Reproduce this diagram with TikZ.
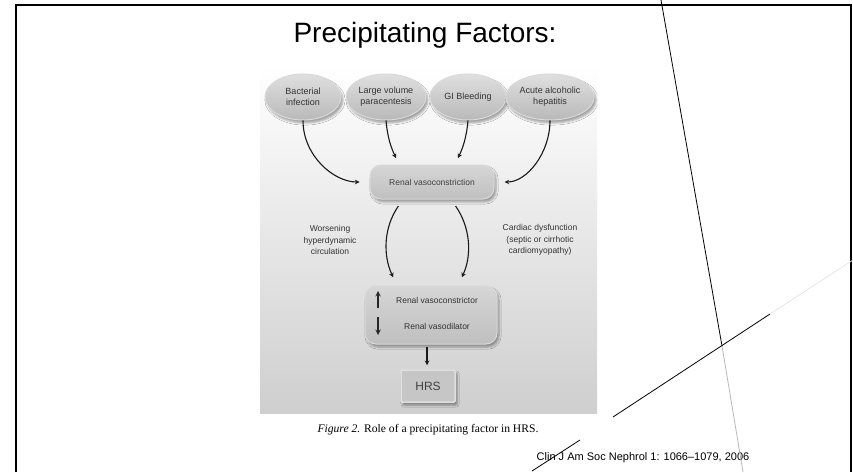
\documentclass[tikz,border=0pt]{standalone}
\usepackage{fontspec}
\setmainfont{Liberation Sans}
\newfontfamily\capfont{Liberation Serif}
\usetikzlibrary{shapes.geometric,shadows.blur}
\tikzstyle{factor}=[ellipse,minimum width=76pt,minimum height=46pt,inner sep=1pt,align=center,draw=gray!30,line width=1pt,top color=gray!25,bottom color=gray!55,blur shadow={shadow xshift=2pt,shadow yshift=-3pt,shadow opacity=35},text=black!80,font=\fontsize{9}{11}\selectfont]
\tikzstyle{box}=[rectangle,rounded corners=11pt,draw=gray!30,line width=1pt,top color=gray!32,bottom color=gray!50,blur shadow={shadow xshift=2pt,shadow yshift=-3pt,shadow opacity=35},text=black!75,font=\fontsize{8.5}{11}\selectfont]
\tikzstyle{hrsbox}=[rectangle,rounded corners=1pt,minimum width=54pt,minimum height=32pt,draw=gray!25,line width=1.5pt,fill=gray!45,blur shadow={shadow xshift=2pt,shadow yshift=-3pt,shadow opacity=40},text=black!75,font=\fontsize{12}{14}\selectfont]
\tikzstyle{lbl}=[align=center,text=black!80,font=\fontsize{8.5}{11.5}\selectfont]
\tikzstyle{to}=[->,>=stealth,line width=1.1pt,black!90]
\tikzstyle{tick}=[->,>=stealth,line width=1.4pt,black!85]

\begin{document}
\begin{tikzpicture}[x=1pt,y=1pt]
    \useasboundingbox (0,0) rectangle (853,472);
    \draw[line width=2.5pt] (16,0) -- (16,467) -- (851,467) -- (851,0);
    \node[font=\fontsize{28}{32}\selectfont] (title) at (425,437) {Precipitating Factors:};

    \shade[top color=white,bottom color=gray!38] (260,59) rectangle (597,407);

    \node[factor] (bact) at (303,375) {Bacterial\\infection};
    \node[factor] (para) at (386,375) {Large volume\\paracentesis};
    \node[factor] (gib) at (468,375) {GI Bleeding};
    \node[factor] (hep) at (550,375) {Acute alcoholic\\hepatitis};

    \node[box,minimum width=124pt,minimum height=34pt] (rvc) at (432,290) {Renal vasoconstriction};
    \node[lbl] (worse) at (330,232) {Worsening\\hyperdynamic\\circulation};
    \node[lbl] (card) at (540,232) {Cardiac dysfunction\\(septic or cirrhotic\\cardiomyopathy)};

    \node[box,minimum width=132pt,minimum height=58pt] (bal) at (431,157) {};
    \node[lbl] (vc) at (437,172) {Renal vasoconstrictor};
    \node[lbl] (vd) at (437,146) {Renal vasodilator};
    \node[hrsbox] (hrs) at (428,86) {HRS};

    \path (bact.south) edge[to,out=-90,in=180,shorten >=10pt] (rvc.west);
    \path (para.south) edge[to,out=-85,in=115,shorten >=7pt] ([xshift=-33pt]rvc.north);
    \path (gib.south) edge[to,out=-95,in=65,shorten >=7pt] ([xshift=23pt]rvc.north);
    \path (hep.south) edge[to,out=-90,in=0,shorten >=10pt] (rvc.east);

    \path ([xshift=-29pt]rvc.south) edge[to,out=235,in=115,shorten <=8pt,shorten >=9pt] ([xshift=-34pt]bal.north);
    \path ([xshift=19pt]rvc.south) edge[to,out=-55,in=65,shorten <=8pt,shorten >=9pt] ([xshift=27pt]bal.north);
    \path ([xshift=-4pt]bal.south) edge[to,shorten <=2pt,shorten >=4pt] ([xshift=-1pt]hrs.north);

    \coordinate (up0) at (378,164);
    \coordinate (up1) at (378,181);
    \coordinate (dn0) at (378,155);
    \coordinate (dn1) at (378,137);
    \draw[tick] (up0) -- (up1);
    \draw[tick] (dn0) -- (dn1);

    \node[font=\capfont\fontsize{11.6}{13}\selectfont] (cap) at (428,42) {\textit{Figure 2.} Role of a precipitating factor in HRS.};
    \node[font=\fontsize{11}{13}\selectfont] (cite) at (643,14) {Clin J Am Soc Nephrol 1: 1066–1079, 2006};

    \coordinate (v0) at (661,472);
    \coordinate (vx) at (722,126);
    \coordinate (v1) at (743,0);
    \draw[line width=0.8pt] (v0) -- (vx);
    \draw[gray!55,line width=0.8pt] (vx) -- (v1);
    \coordinate (d0) at (613,55);
    \coordinate (d1) at (770,158);
    \coordinate (d2) at (853,212);
    \draw[line width=0.8pt] (d0) -- (d1);
    \draw[gray!20,line width=0.8pt] (d1) -- (d2);
    \draw[line width=0.8pt] (532,1) -- (580,32);
\end{tikzpicture}
\end{document}
